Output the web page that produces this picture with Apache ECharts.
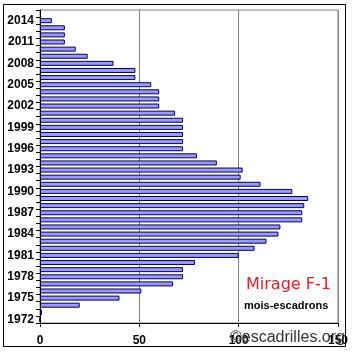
<!DOCTYPE html>
<html>
<head>
<meta charset="utf-8">
<script src="https://cdn.jsdelivr.net/npm/echarts@6/dist/echarts.min.js"></script>
<style>
  html, body { margin: 0; padding: 0; background: #fff; }
  #chart { width: 352px; height: 352px; }
</style>
</head>
<body>
<div id="chart"></div>
<script>
// années 1972 -> 2015 (2015 vide, comme dans l'original)
var years = []
for (var y = 1972; y <= 2015; y++) years.push(String(y))

// mois-escadrons par année
var moisEscadrons = [
  0, 1, 20, 40, 51, 67, 72, 72, 78, 100,       // 1972-1981
  108, 114, 120, 121, 132, 132, 133, 135, 127, 111, // 1982-1991
  101, 102, 89, 79, 72, 72, 72, 72, 72, 68,    // 1992-2001
  60, 60, 60, 56, 48, 48, 37, 24, 18, 12.5,    // 2002-2011
  12.5, 12.5, 6, null                          // 2012-2015
]

var xTicks = [0, 50, 100, 150]

var chart = echarts.init(document.getElementById('chart'))

var option = {
  animation: false,
  backgroundColor: '#fff',
  grid: {
    left: 40,
    right: 14,
    top: 10,
    bottom: 29,
    show: true,
    borderColor: '#808080',
    borderWidth: 1
  },
  xAxis: {
    type: 'value',
    min: xTicks[0],
    max: xTicks[xTicks.length - 1],
    interval: 50,
    axisLine: { show: true, lineStyle: { color: '#000', width: 1 } },
    axisTick: { show: true, length: 4, lineStyle: { color: '#000' } },
    axisLabel: {
      color: '#000',
      fontFamily: 'Liberation Sans',
      fontWeight: 'bold',
      fontSize: 12,
      margin: 12
    },
    splitLine: { show: true, lineStyle: { color: '#808080', width: 1 } }
  },
  yAxis: {
    type: 'category',
    data: years,
    boundaryGap: true,
    axisLine: { show: true, lineStyle: { color: '#000', width: 1 } },
    axisTick: { show: true, interval: 0, length: 4, lineStyle: { color: '#000' } },
    axisLabel: {
      interval: 2,
      color: '#000',
      fontFamily: 'Liberation Sans',
      fontWeight: 'bold',
      fontSize: 12,
      margin: 6
    },
    splitLine: { show: false }
  },
  series: [
    {
      name: 'mois-escadrons',
      type: 'bar',
      data: moisEscadrons,
      barWidth: 5,
      itemStyle: {
        color: '#9999ff',
        borderColor: '#000050',
        borderWidth: 1
      }
    }
  ],
  graphic: [
    {
      type: 'rect',
      shape: { x: 3.5, y: 4.5, width: 342, height: 342 },
      style: { fill: null, stroke: '#000', lineWidth: 1 },
      z: 100
    },
    {
      type: 'text',
      left: 246,
      top: 277,
      style: {
        text: 'Mirage F-1',
        fill: '#e0202a',
        font: '16px "Comic Sans MS", "DejaVu Sans", sans-serif'
      },
      z: 100
    },
    {
      type: 'text',
      left: 244,
      top: 300,
      style: {
        text: 'mois-escadrons',
        fill: '#000',
        font: 'bold 11px "Liberation Sans", Arial, sans-serif'
      },
      z: 100
    },
    {
      type: 'text',
      left: 230,
      top: 330,
      style: {
        text: '©escadrilles.org',
        fill: '#333',
        font: '16px "Liberation Sans", Arial, sans-serif'
      },
      z: 100
    }
  ]
}

chart.setOption(option)
</script>
</body>
</html>
